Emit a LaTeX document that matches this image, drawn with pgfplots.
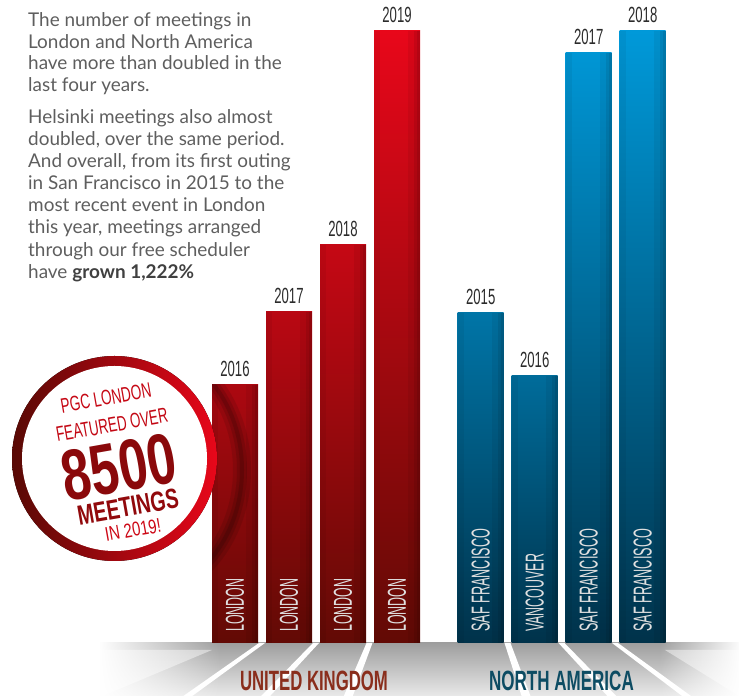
\documentclass[border=0pt]{standalone}
\usepackage{fontspec}
\setmainfont{Lato}
\newfontfamily\cond{Liberation Sans}
\usepackage{graphicx}
\usepackage{pgfplots}
\pgfplotsset{compat=1.18}
\usetikzlibrary{fadings}

\definecolor{ukBot}{HTML}{620A05}
\definecolor{ukTop}{HTML}{E8071A}
\definecolor{naBot}{HTML}{00324A}
\definecolor{naTop}{HTML}{0099D9}
\definecolor{bodytxt}{HTML}{5E5E5E}
\definecolor{ukLab}{HTML}{8A2E1C}
\definecolor{naLab}{HTML}{0D4C63}
\definecolor{yeartxt}{HTML}{2B2B2B}

\colorlet{ukAt}{ukTop!55!ukBot}  \colorlet{ukAm}{ukTop!34!ukBot}
\colorlet{ukBt}{ukTop!65!ukBot}  \colorlet{ukBm}{ukTop!40!ukBot}
\colorlet{ukCt}{ukTop!74!ukBot}  \colorlet{ukCm}{ukTop!46!ukBot}
\colorlet{ukDt}{ukTop!100!ukBot} \colorlet{ukDm}{ukTop!62!ukBot}
\colorlet{naAt}{naTop!65!naBot}  \colorlet{naAm}{naTop!40!naBot}
\colorlet{naBt}{naTop!56!naBot}  \colorlet{naBm}{naTop!35!naBot}
\colorlet{naCt}{naTop!97!naBot}  \colorlet{naCm}{naTop!60!naBot}
\colorlet{naDt}{naTop!100!naBot} \colorlet{naDm}{naTop!62!naBot}

\tikzfading[name=fadeR, left color=transparent!0, right color=transparent!100]
\tikzfading[name=fadeL, left color=transparent!100, right color=transparent!0]

\newcommand\onebar[6]{%
  \addplot[ybar, bar width=46bp, bar shift=0pt, draw=none, top color=#3, middle color=#4, bottom color=#5,
    nodes near coords={\scalebox{0.6}[1]{\pgfplotspointmeta}}, point meta=explicit symbolic,
    every node near coord/.append style={anchor=base, yshift=8bp, inner sep=0pt, text=yeartxt,
      font=\cond\fontsize{22}{22}\selectfont}]
    coordinates {(#1,#2)[#6]};
  % soft darker edges (same bar, narrow translucent strips)
  \addplot[ybar, bar width=12bp, bar shift=17bp, draw=none, fill=black, fill opacity=0.06] coordinates {(#1,#2)};
  \addplot[ybar, bar width=6bp, bar shift=20bp, draw=none, fill=black, fill opacity=0.08] coordinates {(#1,#2)};
  \addplot[ybar, bar width=3bp, bar shift=21.5bp, draw=none, fill=black, fill opacity=0.08] coordinates {(#1,#2)};
  \addplot[ybar, bar width=6bp, bar shift=-20bp, draw=none, fill=black, fill opacity=0.05] coordinates {(#1,#2)};
}
\newcommand\inlab[3]{%
  \node[rotate=90, anchor=west, inner sep=0pt, text=black!12,
    font=\cond\fontsize{26}{26}\selectfont] at (axis cs:#1,11) {\scalebox{#3}[1]{#2}};
}
\newcommand\stripe[2]{%
  \fill[white] ({#1-3},643) -- ({#1+3},643) -- ({#1+4.5+#2*55},698) -- ({#1-4.5+#2*55},698) -- cycle;
}

\begin{document}
\begin{tikzpicture}
\begin{scope}[x=1bp, y=-1bp, yshift=696bp]
  \fill[top color=black!38, bottom color=black!8] (100,643) rectangle (741,697);
  \fill[white, opacity=0.45] (212,650) -- (100,697) -- (100,650) -- cycle;
  \fill[white, opacity=0.45] (665,650) -- (741,697) -- (741,650) -- cycle;
  \stripe{262}{-1.4}
  \stripe{316}{-0.95}
  \stripe{369.5}{-0.4}
  \stripe{507.5}{0.35}
  \stripe{561.5}{0.95}
  \stripe{615}{1.35}
  \fill[white, path fading=fadeR] (99,640) rectangle (220,698);
  \fill[white, path fading=fadeL] (660,640) rectangle (742,698);
\end{scope}

\begin{axis}[at={(208bp,53bp)}, anchor=south west, x=54bp, y=1bp,
  xmin=-0.5, xmax=8.1, ymin=0, ymax=640, hide axis, clip=false]
  \onebar{0}{258}{ukAt}{ukAm}{ukBot}{2016}
  \onebar{1}{331}{ukBt}{ukBm}{ukBot}{2017}
  \onebar{2}{398}{ukCt}{ukCm}{ukBot}{2018}
  \onebar{3}{612}{ukDt}{ukDm}{ukBot}{2019}
  \onebar{4.55}{330}{naAt}{naAm}{naBot}{2015}
  \onebar{5.55}{267}{naBt}{naBm}{naBot}{2016}
  \onebar{6.55}{590}{naCt}{naCm}{naBot}{2017}
  \onebar{7.55}{612}{naDt}{naDm}{naBot}{2018}
  \inlab{0}{LONDON}{0.48}
  \inlab{1}{LONDON}{0.48}
  \inlab{2}{LONDON}{0.48}
  \inlab{3}{LONDON}{0.48}
  \inlab{4.55}{SAF FRANCISCO}{0.49}
  \inlab{5.55}{VANCOUVER}{0.48}
  \inlab{6.55}{SAF FRANCISCO}{0.49}
  \inlab{7.55}{SAF FRANCISCO}{0.49}
\end{axis}

\begin{scope}[x=1bp, y=-1bp, yshift=696bp]
  \begin{scope}
    \clip (212,385) rectangle (258,643);
    \draw[black, opacity=0.10, line width=18bp] (137,470) ellipse [x radius=105, y radius=125];
    \draw[black, opacity=0.12, line width=10bp] (137,470) ellipse [x radius=105, y radius=125];
    \draw[black, opacity=0.14, line width=4bp] (137,470) ellipse [x radius=105, y radius=125];
  \end{scope}
  \fill[left color=ukBot!90!black, right color=ukTop] (114.5,458.5) circle (102.5);
  \fill[white] (114.5,458.5) circle (92.5);
  \node[rotate=10, text=ukTop!75!ukBot, inner sep=0pt, font=\cond\fontsize{21}{21}\selectfont]
    at (106,398) {\scalebox{0.65}[1]{PGC LONDON}};
  \node[rotate=10, text=ukTop!72!ukBot, inner sep=0pt, font=\cond\fontsize{21}{21}\selectfont]
    at (112,425) {\scalebox{0.64}[1]{FEATURED OVER}};
  \node[rotate=10, text=ukTop!30!ukBot, inner sep=0pt, font=\cond\bfseries\fontsize{72}{72}\selectfont]
    at (119,467) {\scalebox{0.72}[1]{8500}};
  \node[rotate=10, text=ukTop!35!ukBot, inner sep=0pt, font=\cond\bfseries\fontsize{28}{28}\selectfont]
    at (128,507) {\scalebox{0.70}[1]{MEETINGS}};
  \node[rotate=10, text=ukTop!80!ukBot, inner sep=0pt, font=\cond\fontsize{20}{20}\selectfont]
    at (133,530) {\scalebox{0.75}[1]{IN 2019!}};

  \node[anchor=base, inner sep=0pt, text=ukLab, font=\cond\bfseries\fontsize{28}{28}\selectfont]
    at (314,691) {\scalebox{0.6}[1]{UNITED KINGDOM}};
  \node[anchor=base, inner sep=0pt, text=naLab, font=\cond\bfseries\fontsize{28}{28}\selectfont]
    at (561.5,691) {\scalebox{0.61}[1]{NORTH AMERICA}};

  \begin{scope}[every node/.style={anchor=base west, inner sep=0pt, text=bodytxt, font=\fontsize{19}{22}\selectfont}]
    \node at (28,26.7) {The number of meetings in};
    \node at (28,48.3) {London and North America};
    \node at (28,70) {have more than doubled in the};
    \node at (28,91.7) {last four years.};
    \node at (28,123.3) {Helsinki meetings also almost};
    \node at (28,145.4) {doubled, over the same period.};
    \node at (28,167.6) {And overall, from its first outing};
    \node at (28,189.7) {in San Francisco in 2015 to the};
    \node at (28,211.9) {most recent event in London};
    \node at (28,234) {this year, meetings arranged};
    \node at (28,256.2) {through our free scheduler};
    \node at (28,278.3) {have \textbf{\color{black!75}grown 1,222\%}};
  \end{scope}
\end{scope}
\pgfresetboundingbox
\path[use as bounding box] (0,0) rectangle (739bp,696bp);
\end{tikzpicture}
\end{document}
